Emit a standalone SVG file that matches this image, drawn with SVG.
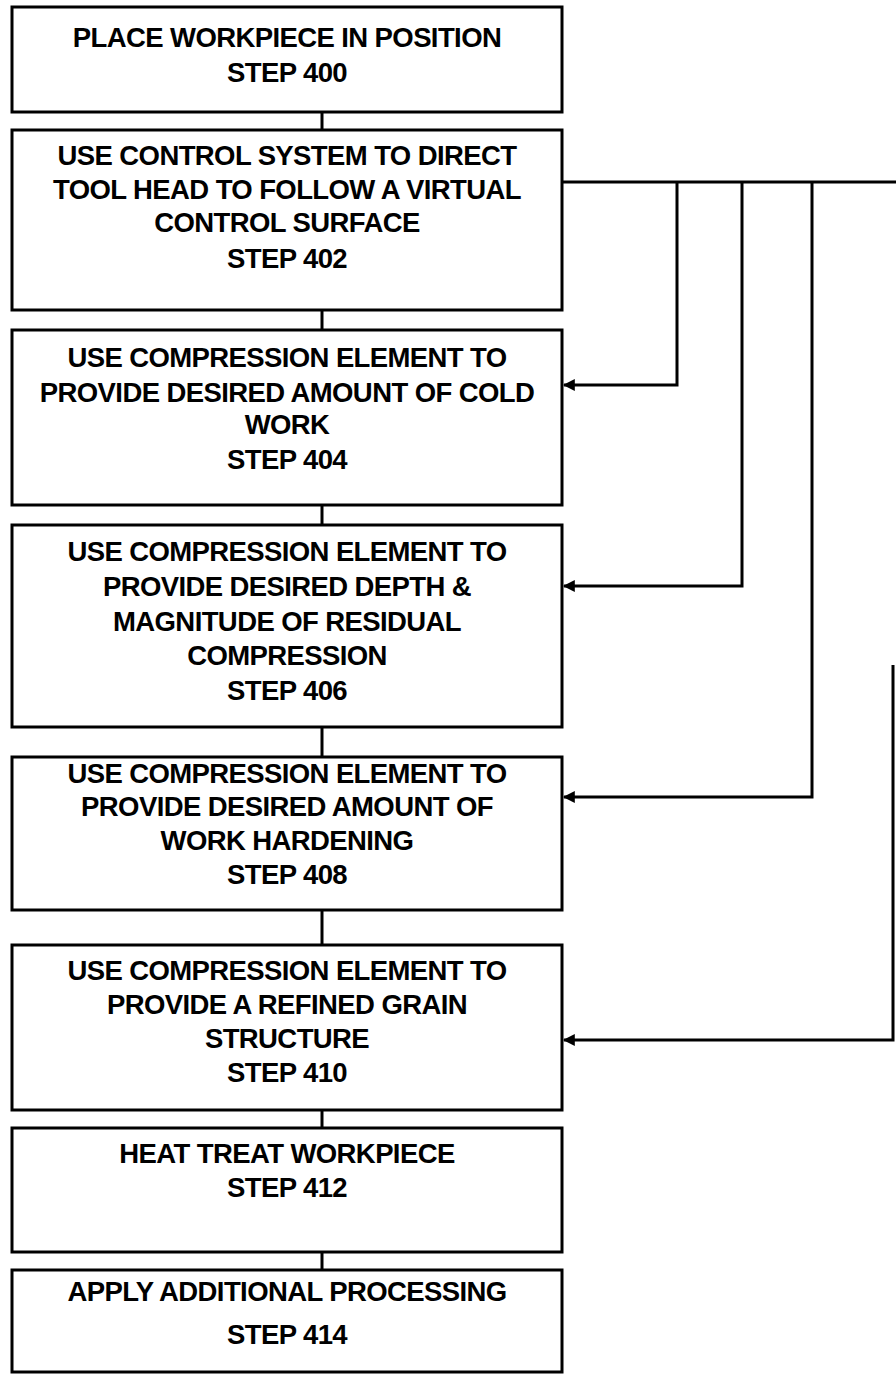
<svg xmlns="http://www.w3.org/2000/svg" width="896" height="1374" viewBox="0 0 896 1374">
<style>
.box{fill:#fff;stroke:#000;stroke-width:3}
.t{font-family:"Liberation Sans",Arial,sans-serif;font-weight:bold;font-size:27.5px;letter-spacing:-0.6px;fill:#000;text-anchor:middle}
.c{fill:none;stroke:#000;stroke-width:3}
</style>
<defs>
<marker id="ah" viewBox="0 0 10 10" refX="9" refY="5" markerWidth="4" markerHeight="4" orient="auto" markerUnits="strokeWidth">
<path d="M0,0 L10,5 L0,10 z" fill="#000"/>
</marker>
</defs>
<rect width="896" height="1374" fill="#fff"/>
<g id="connectors">
<line class="c" x1="322" y1="112" x2="322" y2="130"/>
<line class="c" x1="322" y1="310" x2="322" y2="330"/>
<line class="c" x1="322" y1="505" x2="322" y2="525"/>
<line class="c" x1="322" y1="727" x2="322" y2="757"/>
<line class="c" x1="322" y1="910" x2="322" y2="945"/>
<line class="c" x1="322" y1="1110" x2="322" y2="1128"/>
<line class="c" x1="322" y1="1252" x2="322" y2="1270"/>
<line class="c" x1="562" y1="182" x2="896" y2="182"/>
<polyline class="c" points="677,182 677,385 564,385" marker-end="url(#ah)"/>
<polyline class="c" points="742,182 742,586 564,586" marker-end="url(#ah)"/>
<polyline class="c" points="812,182 812,797 564,797" marker-end="url(#ah)"/>
<polyline class="c" points="893,665 893,1040 564,1040" marker-end="url(#ah)"/>
</g>
<g id="step400">
<rect class="box" x="12" y="7" width="550" height="105"/>
<text class="t" x="287" y="47">PLACE WORKPIECE IN POSITION</text>
<text class="t" x="287" y="82">STEP 400</text>
</g>
<g id="step402">
<rect class="box" x="12" y="130" width="550" height="180"/>
<text class="t" x="287" y="165">USE CONTROL SYSTEM TO DIRECT</text>
<text class="t" x="287" y="199">TOOL HEAD TO FOLLOW A VIRTUAL</text>
<text class="t" x="287" y="232">CONTROL SURFACE</text>
<text class="t" x="287" y="268">STEP 402</text>
</g>
<g id="step404">
<rect class="box" x="12" y="330" width="550" height="175"/>
<text class="t" x="287" y="367">USE COMPRESSION ELEMENT TO</text>
<text class="t" x="287" y="402">PROVIDE DESIRED AMOUNT OF COLD</text>
<text class="t" x="287" y="434">WORK</text>
<text class="t" x="287" y="469">STEP 404</text>
</g>
<g id="step406">
<rect class="box" x="12" y="525" width="550" height="202"/>
<text class="t" x="287" y="561">USE COMPRESSION ELEMENT TO</text>
<text class="t" x="287" y="596">PROVIDE DESIRED DEPTH &amp;</text>
<text class="t" x="287" y="631">MAGNITUDE OF RESIDUAL</text>
<text class="t" x="287" y="665">COMPRESSION</text>
<text class="t" x="287" y="700">STEP 406</text>
</g>
<g id="step408">
<rect class="box" x="12" y="757" width="550" height="153"/>
<text class="t" x="287" y="783">USE COMPRESSION ELEMENT TO</text>
<text class="t" x="287" y="816">PROVIDE DESIRED AMOUNT OF</text>
<text class="t" x="287" y="850">WORK HARDENING</text>
<text class="t" x="287" y="884">STEP 408</text>
</g>
<g id="step410">
<rect class="box" x="12" y="945" width="550" height="165"/>
<text class="t" x="287" y="980">USE COMPRESSION ELEMENT TO</text>
<text class="t" x="287" y="1014">PROVIDE A REFINED GRAIN</text>
<text class="t" x="287" y="1048">STRUCTURE</text>
<text class="t" x="287" y="1082">STEP 410</text>
</g>
<g id="step412">
<rect class="box" x="12" y="1128" width="550" height="124"/>
<text class="t" x="287" y="1163">HEAT TREAT WORKPIECE</text>
<text class="t" x="287" y="1197">STEP 412</text>
</g>
<g id="step414">
<rect class="box" x="12" y="1270" width="550" height="102"/>
<text class="t" x="287" y="1301">APPLY ADDITIONAL PROCESSING</text>
<text class="t" x="287" y="1344">STEP 414</text>
</g>
</svg>
